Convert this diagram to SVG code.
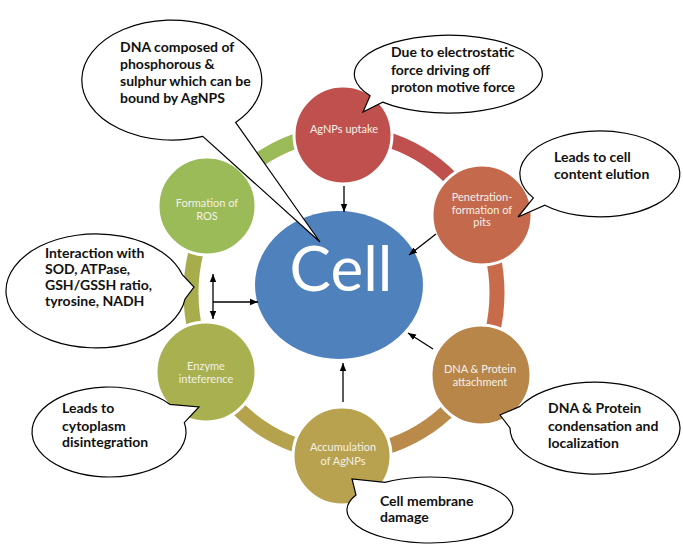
<svg xmlns="http://www.w3.org/2000/svg" width="683" height="545" viewBox="0 0 683 545">
<defs>
<marker id="ah" viewBox="0 0 10 10" refX="10" refY="5" markerWidth="8" markerHeight="8" markerUnits="userSpaceOnUse" orient="auto-start-reverse">
<path d="M0,1 L10,5 L0,9 z" fill="#000"/>
</marker>
<style>
.seg{fill:none;stroke-width:15}
.node{stroke:#fff;stroke-width:3}
.nt{font-family:Lato,'Liberation Sans',sans-serif;font-size:11px;fill:#f4f0e6;text-anchor:middle}
.bub{fill:#fff;stroke:#000;stroke-width:1.2;stroke-linejoin:miter}
.bt{font-family:Lato,'Liberation Sans',sans-serif;font-weight:bold;font-size:14px;fill:#111}
.arr{stroke:#000;stroke-width:1.3;fill:none}
</style>
</defs>
<rect width="683" height="545" fill="#fff"/>
<g id="ring">
<path class="seg" stroke="#9bbb59" d="M211.5 213 A153 160 0 0 1 344 133"/>
<path class="seg" stroke="#c0504d" d="M344 133 A153 160 0 0 1 476.5 213"/>
<path class="seg" stroke="#c86b4a" d="M476.5 213 A153 160 0 0 1 476.5 373"/>
<path class="seg" stroke="#ba8a4b" d="M476.5 373 A153 160 0 0 1 344 453"/>
<path class="seg" stroke="#b5a24d" d="M344 453 A153 160 0 0 1 211.5 373"/>
<path class="seg" stroke="#a7ad4d" d="M211.5 373 A153 160 0 0 1 211.5 213"/>
</g>
<g id="node-uptake"><circle class="node" cx="343" cy="135" r="49" fill="#c0504d"/><text class="nt" x="344" y="133">AgNPs uptake</text></g>
<g id="node-penetration"><circle class="node" cx="482" cy="215" r="50" fill="#c4694c"/><text class="nt" x="482" y="201">Penetration-</text><text class="nt" x="482" y="214">formation of</text><text class="nt" x="482" y="226">pits</text></g>
<g id="node-attachment"><circle class="node" cx="481" cy="375" r="50" fill="#b9864a"/><text class="nt" x="480" y="373">DNA &amp; Protein</text><text class="nt" x="480" y="386">attachment</text></g>
<g id="node-accumulation"><circle class="node" cx="342" cy="456" r="49" fill="#b8a24f"/><text class="nt" x="343" y="451">Accumulation</text><text class="nt" x="343" y="465">of AgNPs</text></g>
<g id="node-enzyme"><circle class="node" cx="206" cy="372" r="50" fill="#a8b04f"/><text class="nt" x="206" y="370">Enzyme</text><text class="nt" x="206" y="383">inteference</text></g>
<g id="node-ros"><circle class="node" cx="207" cy="206" r="49" fill="#9bbb59"/><text class="nt" x="207" y="207">Formation of</text><text class="nt" x="207" y="220">ROS</text></g>
<g id="node-cell"><ellipse cx="339" cy="285" rx="84" ry="74" fill="#4f81bd"/><text x="341" y="291" font-family="Lato,'Liberation Sans',sans-serif" font-size="62" fill="#fff" text-anchor="middle">Cell</text></g>
<g id="connectors">
<line class="arr" x1="344" y1="186" x2="344" y2="212" marker-end="url(#ah)"/>
<line class="arr" x1="436" y1="234" x2="409" y2="255" marker-end="url(#ah)"/>
<line class="arr" x1="433" y1="349" x2="408" y2="333" marker-end="url(#ah)"/>
<line class="arr" x1="343" y1="402" x2="343" y2="363" marker-end="url(#ah)"/>
<line class="arr" x1="213" y1="302" x2="258" y2="302" marker-end="url(#ah)"/>
<line class="arr" x1="213" y1="274" x2="213" y2="319" marker-start="url(#ah)" marker-end="url(#ah)"/>
</g>
<g id="callout-dna">
<path class="bub" d="M235.6 122.4 A90 60 0 1 0 202.8 136.4 L320 242 Z"/>
<text class="bt" x="120" y="52">DNA composed of</text>
<text class="bt" x="120" y="69">phosphorous &amp;</text>
<text class="bt" x="120" y="86">sulphur which can be</text>
<text class="bt" x="120" y="103">bound by AgNPS</text>
</g>
<g id="callout-electrostatic">
<path class="bub" d="M382.7 102.1 A94 39 0 1 0 370.1 95.8 L363 112 Z"/>
<text class="bt" x="391" y="57">Due to electrostatic</text>
<text class="bt" x="391" y="75">force driving off</text>
<text class="bt" x="391" y="92">proton motive force</text>
</g>
<g id="callout-elution">
<path class="bub" d="M544.9 205.2 A80 43 0 1 0 533.4 197.9 L518 217 Z"/>
<text class="bt" x="554" y="162">Leads to cell</text>
<text class="bt" x="554" y="179">content elution</text>
</g>
<g id="callout-interaction">
<path class="bub" d="M182.1 274.3 A90 57 0 1 0 185.1 298.9 L194 287 Z"/>
<text class="bt" x="45" y="258">Interaction with</text>
<text class="bt" x="45" y="274">SOD, ATPase,</text>
<text class="bt" x="45" y="290">GSH/GSSH ratio,</text>
<text class="bt" x="45" y="306">tyrosine, NADH</text>
</g>
<g id="callout-cytoplasm">
<path class="bub" d="M169.7 404.3 A77 45 0 1 0 184.3 422.6 L199 407 Z"/>
<text class="bt" x="62" y="413">Leads to</text>
<text class="bt" x="62" y="431">cytoplasm</text>
<text class="bt" x="62" y="447">disintegration</text>
</g>
<g id="callout-membrane">
<path class="bub" d="M356 495 A83 33 0 1 0 384.8 482.3 L352 479 Z"/>
<text class="bt" x="380" y="506">Cell membrane</text>
<text class="bt" x="380" y="522">damage</text>
</g>
<g id="callout-condensation">
<path class="bub" d="M510 428 A85 46 0 1 0 520 406.4 L500 415 Z"/>
<text class="bt" x="548" y="413">DNA &amp; Protein</text>
<text class="bt" x="548" y="431">condensation and</text>
<text class="bt" x="548" y="448">localization</text>
</g>
</svg>
